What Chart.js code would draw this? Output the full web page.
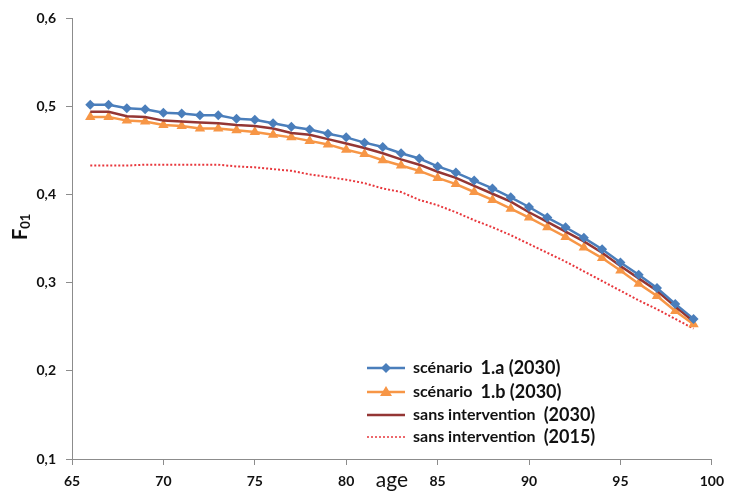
<!DOCTYPE html>
<html>
<head>
<meta charset="utf-8">
<script src="https://cdn.jsdelivr.net/npm/chart.js@4/dist/chart.umd.min.js"></script>
<style>
  html, body { margin: 0; padding: 0; background: #fff; }
  #wrap { width: 732px; height: 494px; }
</style>
</head>
<body>
<div id="wrap"><canvas id="myChart" width="732" height="494"></canvas></div>
<script>
// ages (axe x)
const ages = [66, 67, 68, 69, 70, 71, 72, 73, 74, 75, 76, 77, 78, 79, 80, 81, 82,
    83, 84, 85, 86, 87, 88, 89, 90, 91, 92, 93, 94, 95, 96, 97, 98, 99]

// valeurs F01
const scenario1a = [0.502, 0.502, 0.498, 0.497, 0.493, 0.492, 0.490, 0.490, 0.486, 0.485,
    0.481, 0.477, 0.474, 0.469, 0.465, 0.459, 0.454, 0.447, 0.441, 0.432, 0.425, 0.416,
    0.407, 0.397, 0.386, 0.374, 0.363, 0.351, 0.338, 0.323, 0.309, 0.294, 0.276, 0.259]
const scenario1b = [0.488, 0.488, 0.484, 0.483, 0.479, 0.478, 0.475, 0.475, 0.473, 0.471,
    0.468, 0.465, 0.461, 0.457, 0.451, 0.446, 0.439, 0.433, 0.427, 0.419, 0.412, 0.403,
    0.394, 0.384, 0.374, 0.363, 0.352, 0.340, 0.328, 0.314, 0.299, 0.285, 0.268, 0.253]
const sans2030 = [0.494, 0.494, 0.489, 0.488, 0.484, 0.483, 0.482, 0.481, 0.479, 0.478,
    0.475, 0.470, 0.468, 0.463, 0.458, 0.453, 0.447, 0.440, 0.434, 0.426, 0.419, 0.410,
    0.401, 0.392, 0.380, 0.369, 0.358, 0.347, 0.334, 0.319, 0.305, 0.291, 0.273, 0.256]
const sans2015 = [0.433, 0.433, 0.433, 0.434, 0.434, 0.434, 0.434, 0.434, 0.432, 0.431,
    0.429, 0.427, 0.423, 0.420, 0.417, 0.413, 0.407, 0.403, 0.394, 0.388, 0.380, 0.371,
    0.363, 0.354, 0.344, 0.334, 0.324, 0.313, 0.302, 0.291, 0.280, 0.270, 0.259, 0.248]

// libelles de la legende (deux morceaux : texte + annee)
const etiquettes = ["scénario", "scénario", "sans intervention", "sans intervention"]
const suffixes = ["1.a (2030)", "1.b (2030)", "(2030)", "(2015)"]

const BLEU = "#4A7EBB", ORANGE = "#F79646", BORDEAUX = "#943634", ROUGE = "#E8373C"
const POLICE = "Lato, 'Open Sans', sans-serif"

function points(valeurs) {
    return ages.map((a, i) => ({ x: a, y: valeurs[i] }))
}

// titres des axes + legende dans la zone du graphique
const decor = {
    id: "decor",
    afterDraw(chart) {
        const ctx = chart.ctx
        const area = chart.chartArea
        ctx.save()
        ctx.fillStyle = "#111"

        // titre axe x : "age"
        ctx.font = "21px " + POLICE
        ctx.textAlign = "center"
        ctx.textBaseline = "alphabetic"
        ctx.fillText("age", (area.left + area.right) / 2, 487)

        // titre axe y : F01 (indice)
        ctx.translate(27, 240)
        ctx.rotate(-Math.PI / 2)
        ctx.textAlign = "left"
        ctx.font = "bold 20px " + POLICE
        ctx.fillText("F", 0, 0)
        const wF = ctx.measureText("F").width
        ctx.font = "bold 13px " + POLICE
        ctx.fillText("01", wF, 3)
        ctx.restore()

        // legende
        ctx.save()
        const x0 = 367, x1 = 405, xt = 413
        const lignes = [368, 392, 415, 437]
        lignes.forEach((y, i) => {
            ctx.beginPath()
            ctx.moveTo(x0, y)
            ctx.lineTo(x1, y)
            if (i == 0) { ctx.strokeStyle = BLEU; ctx.lineWidth = 2.5 }
            if (i == 1) { ctx.strokeStyle = ORANGE; ctx.lineWidth = 2.5 }
            if (i == 2) { ctx.strokeStyle = BORDEAUX; ctx.lineWidth = 2.5 }
            if (i == 3) { ctx.strokeStyle = ROUGE; ctx.lineWidth = 1.5; ctx.setLineDash([2, 2]) }
            ctx.stroke()
            ctx.setLineDash([])
            const xm = (x0 + x1) / 2
            if (i == 0) {
                ctx.fillStyle = BLEU
                ctx.beginPath()
                ctx.moveTo(xm, y - 5); ctx.lineTo(xm + 5, y); ctx.lineTo(xm, y + 5); ctx.lineTo(xm - 5, y)
                ctx.closePath(); ctx.fill()
            }
            if (i == 1) {
                ctx.fillStyle = ORANGE
                ctx.beginPath()
                ctx.moveTo(xm, y - 6); ctx.lineTo(xm + 6, y + 4); ctx.lineTo(xm - 6, y + 4)
                ctx.closePath(); ctx.fill()
            }
            ctx.fillStyle = "#111"
            ctx.textAlign = "left"
            ctx.textBaseline = "middle"
            ctx.font = "bold 16px " + POLICE
            ctx.fillText(etiquettes[i], xt, y)
            const w = ctx.measureText(etiquettes[i]).width
            ctx.font = "bold 18px " + POLICE
            ctx.fillText(suffixes[i], xt + w + 8, y)
        })
        ctx.restore()
    }
}

const grafica = document.getElementById("myChart").getContext("2d")

const myChart = new Chart(grafica, {
    type: "line",
    data: {
        datasets: [
            {
                label: "scénario 1.a (2030)",
                data: points(scenario1a),
                borderColor: BLEU,
                backgroundColor: BLEU,
                borderWidth: 2.5,
                pointStyle: "rectRot",
                pointRadius: 5,
                pointBorderWidth: 0,
                order: 0
            },
            {
                label: "scénario 1.b (2030)",
                data: points(scenario1b),
                borderColor: ORANGE,
                backgroundColor: ORANGE,
                borderWidth: 2.5,
                pointStyle: "triangle",
                pointRadius: 6,
                pointBorderWidth: 0,
                order: 2
            },
            {
                label: "sans intervention (2030)",
                data: points(sans2030),
                borderColor: BORDEAUX,
                backgroundColor: BORDEAUX,
                borderWidth: 2.5,
                pointRadius: 0,
                order: 1
            },
            {
                label: "sans intervention (2015)",
                data: points(sans2015),
                borderColor: ROUGE,
                backgroundColor: ROUGE,
                borderWidth: 2,
                borderDash: [2, 2],
                pointRadius: 0,
                order: 3
            }
        ]
    },
    options: {
        responsive: false,
        animation: false,
        layout: { padding: { top: 16, right: 16, left: 0, bottom: 0 } },
        plugins: {
            legend: { display: false },
            tooltip: { enabled: false }
        },
        scales: {
            x: {
                type: "linear",
                min: 65,
                max: 100,
                afterFit: s => { s.height = 35 },
                ticks: {
                    stepSize: 5,
                    padding: 8,
                    color: "#111",
                    font: { family: POLICE, size: 14, weight: "bold" }
                },
                grid: { display: true, drawOnChartArea: false, tickLength: 6, color: "#8c8c8c" },
                border: { color: "#8c8c8c", width: 1 }
            },
            y: {
                min: 0.1,
                max: 0.6,
                afterFit: s => { s.width = 72 },
                ticks: {
                    stepSize: 0.1,
                    padding: 10,
                    color: "#111",
                    font: { family: POLICE, size: 14, weight: "bold" },
                    callback: v => v.toFixed(1).replace(".", ",")
                },
                grid: { display: true, drawOnChartArea: false, tickLength: 6, color: "#8c8c8c" },
                border: { color: "#8c8c8c", width: 1 }
            }
        }
    },
    plugins: [decor]
})
</script>
</body>
</html>
